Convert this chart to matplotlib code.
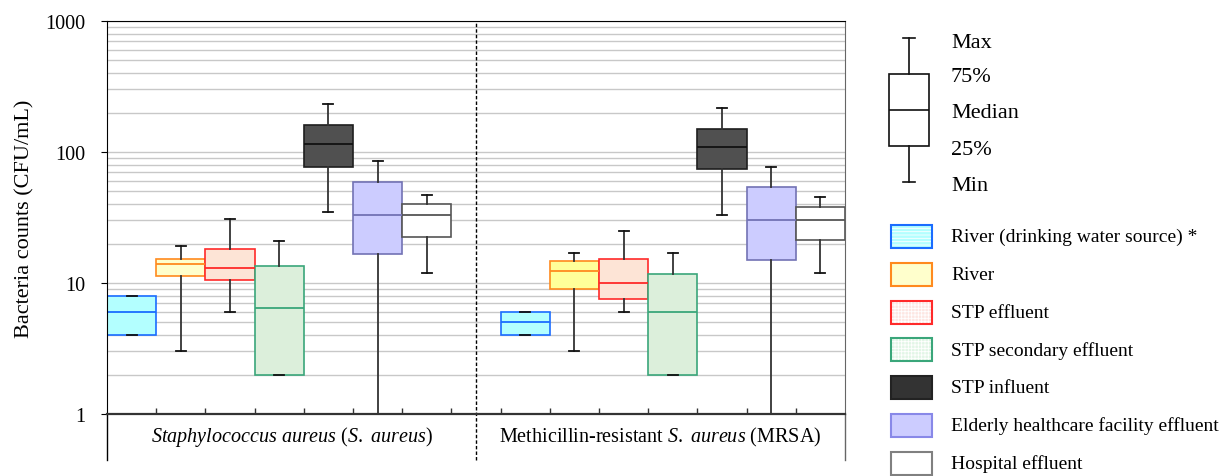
import numpy as np
import matplotlib.pyplot as plt
from matplotlib.patches import Rectangle
from matplotlib.ticker import LogLocator, NullFormatter

plt.rcParams['font.family'] = ['Liberation Serif', 'DejaVu Serif']
plt.rcParams['mathtext.fontset'] = 'custom'
plt.rcParams['mathtext.rm'] = 'Liberation Serif'
plt.rcParams['mathtext.it'] = 'Liberation Serif:italic'
plt.rcParams['hatch.linewidth'] = 0.6

# sample sources (legend order = box order)
sources = ['River (drinking water source) *', 'River', 'STP effluent',
           'STP secondary effluent', 'STP influent',
           'Elderly healthcare facility effluent', 'Hospital effluent']

# S. aureus counts (CFU/mL): min, 25%, median, 75%, max
sa_min = [4, 3, 6, 2, 35, 0.5, 12]
sa_q1 = [4, 11.3, 10.5, 2, 77, 16.6, 22.4]
sa_med = [6, 14, 13, 6.5, 115, 33, 33]
sa_q3 = [8, 15.3, 18.2, 13.6, 161, 59, 40]
sa_max = [8, 19, 31, 21, 231, 85, 47]

# MRSA counts (CFU/mL)
mrsa_min = [4, 3, 6, 2, 33, 0.5, 12]
mrsa_q1 = [4, 9, 7.5, 2, 74, 15, 21.3]
mrsa_med = [5, 12.4, 10, 6, 109, 30.3, 30.3]
mrsa_q3 = [6, 14.8, 15.3, 11.7, 151, 54, 37.8]
mrsa_max = [6, 17, 25, 17, 218, 77, 45.6]

panels = [r'$\mathit{Staphylococcus\ aureus}$ ($\mathit{S.\ aureus}$)',
          r'Methicillin-resistant $\mathit{S.\ aureus}$ (MRSA)']

fills_sa = ['#b3ffff', '#ffffcc', '#fde4d6', '#dcefdb', '#505050', '#ccccff', '#ffffff']
fills_mrsa = ['#b3ffff', '#ffff99', '#fde4d6', '#dcefdb', '#505050', '#ccccff', '#ffffff']
edges = ['#1a6cff', '#ff8a1e', '#ff2a2a', '#3aa67a', '#1e1e1e', '#7272b4', '#555555']
leg_fills = ['#b3ffff', '#ffffcc', '#fde6e2', '#e2f6e6', '#333333', '#ccccff', '#ffffff']
leg_edges = ['#1a6cff', '#ff8a1e', '#ff2a2a', '#3aa67a', '#222222', '#8888e8', '#808080']
leg_hatch = ['-----', None, '+++++', '+++++', None, None, None]

W, H = 1226, 477
fig = plt.figure(figsize=(W / 100, H / 100), dpi=100)
ax = fig.add_axes([107 / W, 1 - 415 / H, (845 - 107) / W, (415 - 22) / H])


def make_stats(mn, q1, md, q3, mx):
    return [dict(whislo=a, q1=b, med=c, q3=d, whishi=e, fliers=[])
            for a, b, c, d, e in zip(mn, q1, md, q3, mx)]


sets = [(make_stats(sa_min, sa_q1, sa_med, sa_q3, sa_max), list(range(0, 7)), fills_sa),
        (make_stats(mrsa_min, mrsa_q1, mrsa_med, mrsa_q3, mrsa_max), list(range(8, 15)), fills_mrsa)]

for st, pos, fills in sets:
    bp = ax.bxp(st, positions=pos, widths=1.0, capwidths=0.2, patch_artist=True,
                showfliers=False, manage_ticks=False,
                whiskerprops=dict(color='#333333', lw=1.3),
                capprops=dict(color='#111111', lw=1.3))
    for box, med, fc, ec in zip(bp['boxes'], bp['medians'], fills, edges):
        box.set_facecolor(fc)
        box.set_edgecolor(ec)
        box.set_linewidth(1.2)
        med.set_color('#111111' if fc == '#505050' else ec)
        med.set_linewidth(1.3)

ax.set_yscale('log')
ax.set_ylim(1, 1000)
ax.set_yticks([1, 10, 100, 1000])
ax.set_yticklabels(['1', '10', '100', '1000'])
ax.yaxis.set_minor_locator(LogLocator(subs=np.arange(2, 10)))
ax.yaxis.set_minor_formatter(NullFormatter())
ax.set_axisbelow(True)
ax.grid(axis='y', which='both', color='#c8c8c8', lw=1.0)
ax.tick_params(axis='y', which='major', direction='out', length=4.5, pad=11, labelsize=14.5)
ax.tick_params(axis='y', which='minor', length=0)

ax.set_xlim(-0.5, 14.5)
ax.set_xticks(np.arange(0.5, 14, 1))
ax.set_xticklabels([])
ax.tick_params(axis='x', direction='in', length=4, width=1, color='#333333')

ax.spines['bottom'].set_linewidth(1.6)
ax.spines['bottom'].set_color('#333333')
ax.spines['right'].set_color('#666666')

ax.set_ylabel('Bacteria counts (CFU/mL)', fontsize=16, labelpad=8)

# panel divider and category strip below the axis
ax.axvline(7, ymin=-0.117, ymax=1, color='k', lw=1, ls=(0, (2.5, 1.5)), clip_on=False)
ax.axvline(-0.5, ymin=-0.117, ymax=0, color='k', lw=1, clip_on=False)
ax.axvline(14.5, ymin=-0.117, ymax=0, color='#666666', lw=1, clip_on=False)
tr = ax.get_xaxis_transform()
ax.text(3.25, -0.056, panels[0], transform=tr, ha='center', va='center', fontsize=14.5)
ax.text(10.75, -0.056, panels[1], transform=tr, ha='center', va='center', fontsize=14.5)

# box key
kax = fig.add_axes([889 / W, 1 - 183 / H, 40 / W, 144 / H])
kb = kax.bxp([dict(whislo=-2, q1=-1, med=0, q3=1, whishi=2, fliers=[])], positions=[0],
             widths=1.0, capwidths=0.32, patch_artist=True, showfliers=False,
             boxprops=dict(facecolor='white', edgecolor='#111111', lw=1.2),
             medianprops=dict(color='#111111', lw=1.2),
             whiskerprops=dict(color='#111111', lw=1.2),
             capprops=dict(color='#111111', lw=1.2))
for k in kb:
    for a in kb[k]:
        a.set_clip_on(False)
kax.set_xlim(-0.5, 0.5)
kax.set_ylim(-2, 2)
kax.axis('off')

lax = fig.add_axes([0, 0, 1, 1], facecolor='none')
lax.set_xlim(0, W)
lax.set_ylim(H, 0)
lax.axis('off')

for y, s in zip([43, 77, 113, 151, 187], ['Max', '75%', 'Median', '25%', 'Min']):
    lax.text(951, y, s, fontsize=16, ha='left', va='center')

for i, (s, fc, ec, hp) in enumerate(zip(sources, leg_fills, leg_edges, leg_hatch)):
    y = 237.5 + 37.8 * i
    lax.add_patch(Rectangle((891, y - 11.5), 41, 23, facecolor=fc, edgecolor=ec, lw=1.5))
    if hp:
        lax.add_patch(Rectangle((892, y - 10.5), 39, 21, facecolor='none',
                                edgecolor='white', lw=0, hatch=hp))
    lax.text(951, y, s, fontsize=14, ha='left', va='center')

fig.savefig('out.png', dpi=100)
